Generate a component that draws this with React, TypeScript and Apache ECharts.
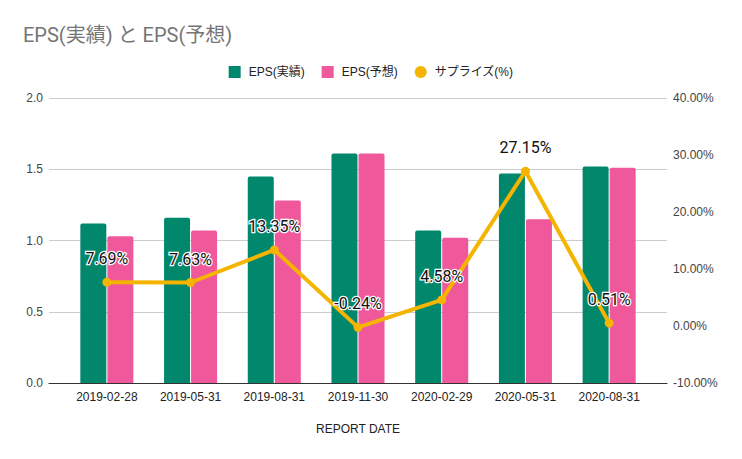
import React, { useEffect, useRef } from "react";
import * as echarts from "echarts";

const categories = ["2019-02-28", "2019-05-31", "2019-08-31", "2019-11-30", "2020-02-29", "2020-05-31", "2020-08-31"];
const epsActual = [1.12, 1.16, 1.45, 1.61, 1.07, 1.47, 1.52];
const epsForecast = [1.03, 1.07, 1.28, 1.61, 1.02, 1.15, 1.51];
const surprise = [7.69, 7.63, 13.35, -0.24, 4.58, 27.15, 0.51];
const leftTicks = { min: 0, max: 2, interval: 0.5 };
const rightTicks = { min: -10, max: 40, interval: 10 };

const GREEN = "#01876c";
const PINK = "#f0589c";
const YELLOW = "#f4b400";
const AXIS_FONT = "'Liberation Sans', Arial, 'Noto Sans CJK JP', sans-serif";

export default function App() {
  const ref = useRef<HTMLDivElement>(null);
  useEffect(() => {
    if (!ref.current) return;
    const chart = echarts.init(ref.current, null, { renderer: "svg" });
    chart.setOption({
      animation: false,
      backgroundColor: "#ffffff",
      title: {
        text: "EPS(実績) と EPS(予想)",
        left: 18,
        top: 20,
        padding: 5,
        textStyle: {
          fontFamily: "Roboto, 'Noto Sans CJK JP', sans-serif",
          fontSize: 20,
          fontWeight: "normal",
          color: "#757575",
        },
      },
      legend: {
        top: 61,
        left: "center",
        itemWidth: 12,
        itemHeight: 12,
        itemGap: 17,
        textStyle: {
          fontFamily: AXIS_FONT,
          fontSize: 12,
          color: "#222222",
          padding: [0, 0, 0, 3],
        },
        data: [
          { name: "EPS(実績)", icon: "rect" },
          { name: "EPS(予想)", icon: "rect" },
          { name: "サプライズ(%)", icon: "circle" },
        ],
      },
      grid: [
        { left: 65, right: 91, top: 98, height: 285 },
        { left: 49, right: 75, top: 98, height: 285 },
      ],
      xAxis: [
        {
          type: "category",
          gridIndex: 0,
          data: categories,
          axisLine: { show: false },
          axisTick: { show: false },
          axisLabel: { margin: 8, fontFamily: AXIS_FONT, fontSize: 12, color: "#222222" },
          name: "REPORT DATE",
          nameLocation: "middle",
          nameGap: 40,
          nameTextStyle: { fontFamily: AXIS_FONT, fontSize: 12, color: "#222222" },
        },
        {
          type: "value",
          gridIndex: 1,
          min: 0,
          max: 1,
          axisLine: { show: true, lineStyle: { color: "#333333", width: 1 } },
          axisTick: { show: false },
          axisLabel: { show: false },
          splitLine: { show: false },
        },
      ],
      yAxis: [
        { type: "value", gridIndex: 0, ...leftTicks, show: false, splitLine: { show: false } },
        { type: "value", gridIndex: 0, ...rightTicks, show: false, splitLine: { show: false } },
        {
          type: "value",
          gridIndex: 1,
          position: "left",
          ...leftTicks,
          axisLine: { show: false },
          axisTick: { show: false },
          axisLabel: {
            margin: 6,
            fontFamily: AXIS_FONT,
            fontSize: 12,
            color: "#444444",
            formatter: (v: number) => v.toFixed(1),
          },
          splitLine: { show: true, lineStyle: { color: "#cccccc", width: 1 } },
        },
        {
          type: "value",
          gridIndex: 1,
          position: "right",
          ...rightTicks,
          axisLine: { show: false },
          axisTick: { show: false },
          axisLabel: {
            margin: 6,
            fontFamily: AXIS_FONT,
            fontSize: 12,
            color: "#444444",
            formatter: (v: number) => `${v.toFixed(2)}%`,
          },
          splitLine: { show: false },
        },
      ],
      series: [
        {
          name: "EPS(実績)",
          type: "bar",
          xAxisIndex: 0,
          yAxisIndex: 0,
          data: epsActual,
          barWidth: 26,
          barGap: "4%",
          itemStyle: { color: GREEN, borderRadius: [2, 2, 0, 0] },
        },
        {
          name: "EPS(予想)",
          type: "bar",
          xAxisIndex: 0,
          yAxisIndex: 0,
          data: epsForecast,
          barWidth: 26,
          barGap: "4%",
          itemStyle: { color: PINK, borderRadius: [2, 2, 0, 0] },
        },
        {
          name: "サプライズ(%)",
          type: "line",
          xAxisIndex: 0,
          yAxisIndex: 1,
          data: surprise,
          z: 5,
          symbol: "circle",
          symbolSize: 9,
          lineStyle: { color: YELLOW, width: 4 },
          itemStyle: { color: YELLOW },
          label: {
            show: true,
            position: "top",
            distance: 11,
            fontFamily: "Roboto, sans-serif",
            fontSize: 16,
            fontWeight: "normal",
            color: "#111111",
            textBorderColor: "#ffffff",
            textBorderWidth: 2.5,
            formatter: (p: any) => `${Number(p.value).toFixed(2)}%`,
          },
        },
      ],
    });
    return () => chart.dispose();
  }, []);
  return (
    <div
      ref={ref}
      style={{ position: "fixed", left: 0, top: 0, width: 742, height: 459, background: "#fff" }}
    />
  );
}
